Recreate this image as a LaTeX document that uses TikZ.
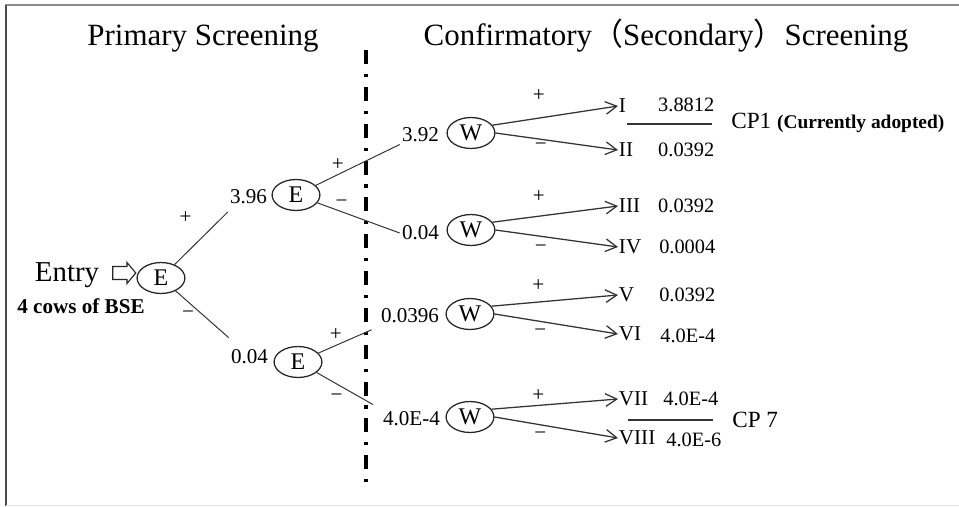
\documentclass[tikz,border=0pt]{standalone}
\usepackage{fontspec}
\setmainfont{Liberation Serif}
\newfontfamily\cjk{Noto Sans CJK JP}
\usepackage{tikz}
\usetikzlibrary{arrows.meta, positioning, shapes.geometric, shapes.arrows}

\begin{document}
\begin{tikzpicture}[
    x=0.025cm, y=-0.025cm,
    chance/.style={ellipse, draw=black!85, line width=0.9pt, minimum width=34pt, minimum height=22pt, inner sep=0pt, font=\fontsize{17}{20}\selectfont},
    val/.style={inner sep=1.5pt, font=\fontsize{15}{18}\selectfont},
    prob/.style={inner sep=1pt, anchor=east, font=\fontsize{14.5}{17}\selectfont},
    numeral/.style={inner sep=0.5pt, anchor=west, font=\fontsize{15}{18}\selectfont},
    sign/.style={inner sep=0pt, font=\fontsize{15}{17}\selectfont},
    title/.style={anchor=base, inner sep=0pt, font=\fontsize{22}{26}\selectfont},
    cplabel/.style={anchor=west, inner sep=0pt, font=\fontsize{16.5}{20}\selectfont},
    branch/.style={draw=black!80, line width=0.7pt},
    wbranch/.style={draw=black!80, line width=0.9pt, -{Straight Barb[length=8pt, width=9pt]}},
    rule/.style={draw=black!80, line width=0.9pt},
    divider/.style={line width=2.6pt, dash pattern=on 10pt off 7pt on 2.2pt off 7pt}
]
    \useasboundingbox (0,0) rectangle (959,506);

    % Frame
    \draw[black!45, line width=1.4pt] (5,5) -- (959,5);
    \draw[black!70, line width=1.4pt] (6,5) -- (6,506);
    \draw[black!10, line width=0.7pt] (6,505) -- (959,505);

    % Headings
    \node[title] (primary) at (203,45) {Primary Screening};
    \node[title] (confirm) at (666,45) {Confirmatory{\cjk （}Secondary{\cjk ）}Screening};

    % Border between the two stages
    \coordinate (divtop) at (366,50);
    \coordinate (divbot) at (366,488);
    \draw[divider] (divtop) -- (divbot);

    % Entry
    \node[anchor=base, inner sep=0pt, font=\fontsize{20.5}{24}\selectfont] (entry) at (67,281) {Entry};
    \node[anchor=base, inner sep=0pt, font=\fontsize{15}{18}\selectfont\bfseries] (cows) at (81,313) {4 cows of BSE};
    \node[single arrow, draw=black!85, line width=0.8pt, inner sep=0pt, inner ysep=4.25pt, minimum height=16.4pt, single arrow head extend=2.8pt, single arrow tip angle=100] (entryarrow) at (121.5,273) {};

    % Primary screening (E)
    \node[chance] (E1) at (161,278) {E};
    \node[chance] (E2) at (296,195) {E};
    \node[chance] (E3) at (298,362) {E};
    \node[val] (v396) at (248.5,197) {3.96};
    \node[val] (v004a) at (249.5,357) {0.04};

    \draw[branch] (E1) -- node[sign, midway, above left=10pt and 6.5pt] {+} ([yshift=-4pt]v396.south west);
    \draw[branch] (E1) -- node[sign, midway, left=5.5pt] {−} ([yshift=7pt]v004a.north west);

    % Confirmatory screening (W)
    \node[chance] (W1) at (471,133) {W};
    \node[chance] (W2) at (471,230) {W};
    \node[chance] (W3) at (470,314) {W};
    \node[chance] (W4) at (470,417) {W};
    \node[val] (v392) at (420.5,135) {3.92};
    \node[val] (v004b) at (420.5,233) {0.04};
    \node[val] (v0396) at (410,316) {0.0396};
    \node[val] (v4e4) at (411.5,419) {4.0E-4};

    \draw[branch] (E2) -- node[sign, midway, left=9.5pt] {+} (v392.south west);
    \draw[branch] (E2) -- node[sign, midway, above left=7pt and 7.5pt] {−} (v004b.west);
    \draw[branch] (E3) -- node[sign, midway, above left=0.5pt and 2pt] {+} ([xshift=-5pt, yshift=-3pt]v0396.south west);
    \draw[branch] (E3) -- node[sign, midway, below left=3.5pt and 1.2pt] {−} ([xshift=-5.5pt, yshift=3.5pt]v4e4.north west);

    % Results
    \node[numeral] (r1) at (618,106) {I};
    \node[numeral] (r2) at (618,150) {II};
    \node[numeral] (r3) at (618,206) {III};
    \node[numeral] (r4) at (618,247) {IV};
    \node[numeral] (r5) at (618,295) {V};
    \node[numeral] (r6) at (618,334) {VI};
    \node[numeral] (r7) at (618,399) {VII};
    \node[numeral] (r8) at (618,438) {VIII};

    \node[prob] (p1) at (716,105) {3.8812};
    \node[prob] (p2) at (716,150) {0.0392};
    \node[prob] (p3) at (716,206) {0.0392};
    \node[prob] (p4) at (717,247) {0.0004};
    \node[prob] (p5) at (717,295) {0.0392};
    \node[prob] (p6) at (717,336) {4.0E-4};
    \node[prob] (p7) at (720,399) {4.0E-4};
    \node[prob] (p8) at (723,440) {4.0E-6};

    \draw[wbranch] (W1.20) -- node[sign, pos=0.37, above=11pt] {+} (r1.west);
    \draw[wbranch] (W1.east) -- node[sign, pos=0.37, below=2pt] {−} (r2.west);
    \draw[wbranch] (W2.20) -- node[sign, pos=0.37, above=9pt] {+} (r3.west);
    \draw[wbranch] (W2.east) -- node[sign, pos=0.37, below=5.8pt] {−} (r4.west);
    \draw[wbranch] (W3.20) -- node[sign, pos=0.37, above=7pt] {+} (r5.west);
    \draw[wbranch] (W3.east) -- node[sign, pos=0.37, below=5pt] {−} (r6.west);
    \draw[wbranch] (W4.20) -- node[sign, pos=0.37, above=2.3pt] {+} (r7.west);
    \draw[wbranch] (W4.east) -- node[sign, pos=0.37, below=4.8pt] {−} (r8.west);

    % Compared pairs
    \draw[rule] (627,124) -- (712,124);
    \draw[rule] (628,420) -- (713,420);
    \node[cplabel] (cp1) at (731,123) {CP1 {\bfseries\fontsize{13.8}{16}\selectfont (Currently adopted)}};
    \node[cplabel] (cp7) at (732,420) {CP 7};
\end{tikzpicture}
\end{document}
